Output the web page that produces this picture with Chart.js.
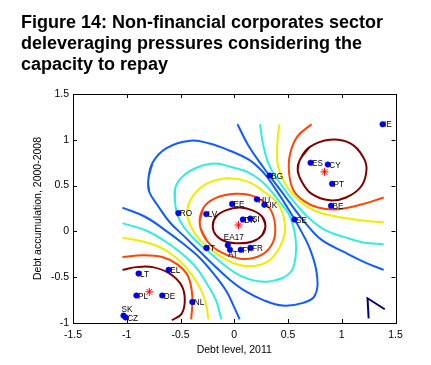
<!DOCTYPE html>
<html>
<head>
<meta charset="utf-8">
<script src="https://cdn.jsdelivr.net/npm/chart.js@4.4.1/dist/chart.umd.min.js"></script>
<style>
  html, body { margin: 0; padding: 0; background: #fff; }
  #wrap { width: 431px; height: 365px; }
</style>
</head>
<body>
<div id="wrap"><canvas id="deleveragingChart" width="431" height="365"></canvas></div>
<script>
const countries = ['IE', 'ES', 'CY', 'PT', 'BE', 'BG', 'HU', 'UK', 'EE', 'SE', 'DK', 'SI', 'RO', 'LV', 'IT', 'EA17', 'AT', 'FI', 'FR', 'LT', 'EL', 'PL', 'DE', 'NL', 'SK', 'CZ'];
const debtLevel = [1.38, 0.71, 0.87, 0.91, 0.90, 0.33, 0.21, 0.28, -0.02, 0.56, 0.08, 0.15, -0.52, -0.26, -0.26, -0.06, -0.04, 0.06, 0.15, -0.89, -0.61, -0.91, -0.67, -0.39, -1.03, -1.01];
const debtAccumulation = [1.17, 0.75, 0.73, 0.52, 0.28, 0.61, 0.35, 0.29, 0.30, 0.13, 0.13, 0.14, 0.20, 0.19, -0.18, -0.15, -0.20, -0.20, -0.18, -0.46, -0.42, -0.70, -0.70, -0.77, -0.92, -0.94];

// cluster centres (red stars)
const centreX = [0.84, 0.04, -0.79];
const centreY = [0.65, 0.07, -0.66];

const xTicks = [-1.5, -1, -0.5, 0, 0.5, 1, 1.5];
const yTicks = [-1, -0.5, 0, 0.5, 1, 1.5];

// contour lines, as [debt level, debt accumulation]
const centreDarkRed = [[0.29, 0.06], [0.26, 0.16], [0.17, 0.23], [0.05, 0.26], [-0.08, 0.23], [-0.17, 0.16], [-0.20, 0.06], [-0.17, -0.04], [-0.08, -0.11], [0.05, -0.13], [0.17, -0.11], [0.26, -0.04], [0.29, 0.06]];
const centreOrange = [[-0.32, 0.07], [-0.29, 0.25], [-0.18, 0.36], [0.01, 0.41], [0.19, 0.38], [0.33, 0.25], [0.38, 0.07], [0.36, -0.12], [0.25, -0.26], [0.07, -0.30], [-0.12, -0.23], [-0.25, -0.11], [-0.32, 0.07]];
const centreYellow = [[-0.44, 0.20], [-0.41, 0.07], [-0.35, -0.05], [-0.26, -0.16], [-0.13, -0.27], [0.00, -0.35], [0.16, -0.38], [0.31, -0.33], [0.42, -0.18], [0.47, -0.01], [0.46, 0.16], [0.40, 0.31], [0.27, 0.44], [0.13, 0.54], [-0.04, 0.58], [-0.20, 0.55], [-0.32, 0.47], [-0.41, 0.34], [-0.44, 0.20]];
const centreCyan = [[-0.55, 0.31], [-0.55, 0.47], [-0.48, 0.60], [-0.34, 0.70], [-0.18, 0.74], [-0.02, 0.70], [0.14, 0.64], [0.29, 0.51], [0.41, 0.34], [0.52, 0.16], [0.57, -0.07], [0.57, -0.28], [0.52, -0.45], [0.36, -0.54], [0.20, -0.54], [0.05, -0.48], [-0.09, -0.37], [-0.23, -0.23], [-0.36, -0.10], [-0.47, 0.05], [-0.53, 0.18], [-0.55, 0.31]];
const centreBlue = [[-0.80, 0.56], [-0.76, 0.75], [-0.63, 0.91], [-0.41, 0.99], [-0.23, 0.96], [-0.04, 0.88], [0.14, 0.78], [0.28, 0.63], [0.39, 0.45], [0.50, 0.25], [0.61, 0.03], [0.71, -0.21], [0.77, -0.48], [0.75, -0.70], [0.64, -0.78], [0.45, -0.81], [0.27, -0.75], [0.10, -0.65], [-0.04, -0.53], [-0.18, -0.38], [-0.32, -0.22], [-0.46, -0.06], [-0.60, 0.10], [-0.71, 0.28], [-0.79, 0.43], [-0.80, 0.56]];

const upperDarkRed = [[0.61, 0.78], [0.70, 0.92], [0.89, 1.00], [1.08, 0.96], [1.20, 0.81], [1.23, 0.67], [1.18, 0.49], [1.04, 0.37], [0.89, 0.34], [0.72, 0.41], [0.63, 0.54], [0.59, 0.67], [0.61, 0.78]];
const upperOrange = [[0.72, 1.17], [0.59, 1.04], [0.52, 0.85], [0.51, 0.64], [0.55, 0.45], [0.65, 0.33], [0.78, 0.26], [0.95, 0.24], [1.17, 0.29], [1.39, 0.37]];
const upperYellow = [[0.42, 1.17], [0.40, 0.94], [0.41, 0.70], [0.49, 0.49], [0.61, 0.33], [0.76, 0.22], [0.96, 0.16], [1.19, 0.12], [1.39, 0.10]];
const upperCyan = [[0.24, 1.17], [0.27, 0.94], [0.33, 0.71], [0.46, 0.47], [0.58, 0.29], [0.71, 0.13], [0.85, 0.01], [1.02, -0.06], [1.20, -0.12], [1.39, -0.14]];
const upperBlue = [[0.03, 1.17], [0.13, 0.94], [0.27, 0.70], [0.43, 0.45], [0.55, 0.26], [0.67, 0.08], [0.81, -0.09], [1.03, -0.23], [1.22, -0.34], [1.39, -0.42]];

const lowerDarkRed = [[-1.04, -0.42], [-0.91, -0.39], [-0.76, -0.39], [-0.60, -0.46], [-0.49, -0.59], [-0.46, -0.75], [-0.49, -0.90], [-0.58, -0.97]];
const lowerOrange = [[-1.04, -0.28], [-0.85, -0.26], [-0.67, -0.28], [-0.53, -0.36], [-0.43, -0.49], [-0.39, -0.71], [-0.40, -0.96]];
const lowerYellow = [[-1.04, -0.07], [-0.85, -0.11], [-0.66, -0.19], [-0.50, -0.33], [-0.39, -0.48], [-0.30, -0.66], [-0.26, -0.81], [-0.24, -0.96]];
const lowerCyan = [[-1.04, 0.09], [-0.82, 0.01], [-0.64, -0.11], [-0.48, -0.25], [-0.35, -0.40], [-0.25, -0.58], [-0.17, -0.75], [-0.12, -0.96]];
const lowerBlue = [[-1.04, 0.26], [-0.83, 0.16], [-0.65, 0.02], [-0.48, -0.13], [-0.32, -0.29], [-0.18, -0.48], [-0.07, -0.66], [0.00, -0.83], [0.05, -0.96]];

const cornerNavy = [[1.25, -0.95], [1.24, -0.73], [1.40, -0.85]];

const levelColours = {
    navy: '#00007f',
    blue: '#0f5cff',
    cyan: '#30eedc',
    yellow: '#eeee00',
    orange: '#ff4500',
    darkRed: '#800000'
};

// label nudges in px, default is just right of the dot
const labelOffset = {
    SK: [-2, -6],
    EA17: [-4, -7],
    AT: [-2, 5]
};

const FONT = '"Liberation Sans", Arial, Helvetica, sans-serif';

const toPoints = arr => arr.map(([x, y]) => ({ x: x, y: y }));
// wrap closed loops so the smoothing has neighbours at the seam
const closeLoop = arr => toPoints([arr[arr.length - 2], ...arr, arr[1]]);

const contourSets = [
    [centreBlue, 'blue', true], [centreCyan, 'cyan', true], [centreYellow, 'yellow', true],
    [centreOrange, 'orange', true], [centreDarkRed, 'darkRed', true],
    [upperBlue, 'blue', false], [upperCyan, 'cyan', false], [upperYellow, 'yellow', false],
    [upperOrange, 'orange', false], [upperDarkRed, 'darkRed', true],
    [lowerBlue, 'blue', false], [lowerCyan, 'cyan', false], [lowerYellow, 'yellow', false],
    [lowerOrange, 'orange', false], [lowerDarkRed, 'darkRed', false]
];

const datasets = [{
    label: 'Countries',
    data: debtLevel.map((x, i) => ({ x: x, y: debtAccumulation[i] })),
    pointRadius: 2.8,
    pointBackgroundColor: '#0000ff',
    pointBorderColor: '#0000c8',
    pointBorderWidth: 0.5,
    showLine: false,
    order: 0
}, {
    label: 'Centres',
    data: centreX.map((x, i) => ({ x: x, y: centreY[i] })),
    pointStyle: 'star',
    pointRadius: 4,
    pointBorderColor: '#ff0000',
    pointBorderWidth: 1,
    showLine: false,
    order: 1
}];

contourSets.forEach(([line, colour, closed]) => {
    datasets.push({
        label: 'contour',
        data: closed ? closeLoop(line) : toPoints(line),
        showLine: true,
        borderColor: levelColours[colour],
        borderWidth: 2,
        pointRadius: 0,
        tension: 0.4,
        fill: false,
        order: 2
    });
});
datasets.push({
    label: 'contour',
    data: toPoints(cornerNavy),
    showLine: true,
    borderColor: levelColours.navy,
    borderWidth: 2,
    pointRadius: 0,
    tension: 0,
    order: 2
});

// MATLAB style box with inward ticks on all four sides
const framePlugin = {
    id: 'frame',
    afterDatasetsDraw(chart) {
        const { ctx, chartArea: a, scales } = chart;
        ctx.save();
        ctx.strokeStyle = '#000';
        ctx.lineWidth = 1;
        ctx.strokeRect(Math.round(a.left) + 0.5, Math.round(a.top) + 0.5,
            Math.round(a.right - a.left), Math.round(a.bottom - a.top));
        const len = 4;
        ctx.beginPath();
        xTicks.forEach(v => {
            const px = Math.round(scales.x.getPixelForValue(v)) + 0.5;
            ctx.moveTo(px, a.bottom); ctx.lineTo(px, a.bottom - len);
            ctx.moveTo(px, a.top); ctx.lineTo(px, a.top + len);
        });
        yTicks.forEach(v => {
            const py = Math.round(scales.y.getPixelForValue(v)) + 0.5;
            ctx.moveTo(a.left, py); ctx.lineTo(a.left + len, py);
            ctx.moveTo(a.right, py); ctx.lineTo(a.right - len, py);
        });
        ctx.stroke();
        ctx.restore();
    }
};

const labelPlugin = {
    id: 'countryLabels',
    afterDatasetsDraw(chart) {
        const meta = chart.getDatasetMeta(0);
        const ctx = chart.ctx;
        ctx.save();
        ctx.font = '8.2px ' + FONT;
        ctx.fillStyle = '#000';
        ctx.textBaseline = 'middle';
        ctx.textAlign = 'left';
        meta.data.forEach((pt, i) => {
            const name = countries[i];
            const [dx, dy] = labelOffset[name] || [1.5, 1];
            ctx.fillText(name, pt.x + dx, pt.y + dy);
        });
        ctx.restore();
    }
};

const tickText = v => String(v);

const config = {
    type: 'scatter',
    data: { datasets: datasets },
    options: {
        responsive: false,
        animation: false,
        devicePixelRatio: 1,
        layout: { padding: { left: 21, right: 35.5, top: 0, bottom: 0 } },
        scales: {
            x: {
                type: 'linear',
                min: -1.5,
                max: 1.5,
                afterBuildTicks: s => { s.ticks = xTicks.map(v => ({ value: v })); },
                afterFit: s => { s.height = 42; },
                grid: { display: false, drawTicks: false },
                border: { display: false },
                ticks: { color: '#000', padding: 6, font: { family: FONT, size: 10.5 }, callback: tickText },
                title: {
                    display: true,
                    text: 'Debt level, 2011',
                    color: '#000',
                    font: { family: FONT, size: 10.5 },
                    padding: { top: 0, bottom: 8.7 }
                }
            },
            y: {
                type: 'linear',
                min: -1,
                max: 1.5,
                afterBuildTicks: s => { s.ticks = yTicks.map(v => ({ value: v })); },
                afterFit: s => { s.width = 52; },
                grid: { display: false, drawTicks: false },
                border: { display: false },
                ticks: { color: '#000', padding: 4, font: { family: FONT, size: 10.5 }, callback: tickText },
                title: {
                    display: true,
                    text: 'Debt accumulation, 2000-2008',
                    color: '#000',
                    font: { family: FONT, size: 10.5 },
                    padding: { top: 10.5, bottom: 0 }
                }
            }
        },
        plugins: {
            legend: { display: false },
            tooltip: { enabled: false },
            title: {
                display: true,
                align: 'start',
                text: ['Figure 14: Non-financial corporates sector', 'deleveraging pressures considering the', 'capacity to repay'],
                color: '#000',
                font: { family: FONT, size: 18, weight: 'bold', lineHeight: 21 / 18 },
                padding: { top: 12.5, bottom: 18.5 }
            }
        }
    },
    plugins: [framePlugin, labelPlugin]
};

new Chart(document.getElementById('deleveragingChart'), config);
</script>
</body>
</html>
